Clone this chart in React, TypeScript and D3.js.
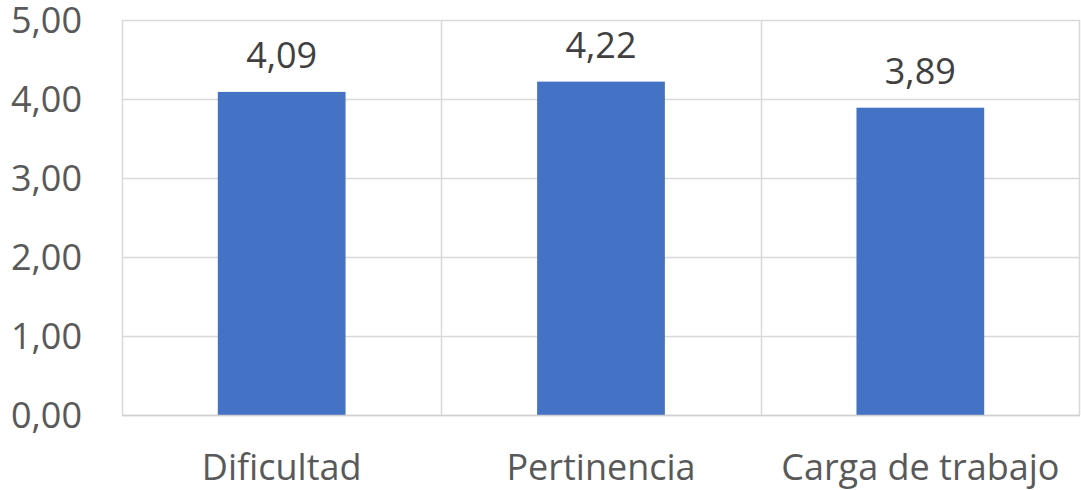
import React from "react";
import * as d3 from "d3";

const categories = ["Dificultad", "Pertinencia", "Carga de trabajo"];
const values = [4.09, 4.22, 3.89];
const yTicks = [0, 1, 2, 3, 4, 5];

const W = 1081;
const H = 490;
const M = { left: 122, right: 1080, top: 20, bottom: 415 };
const FONT = "'Open Sans', sans-serif";
const fmt = (v: number) => v.toFixed(2).replace(".", ",");

export default function App() {
  const x = d3
    .scaleBand<string>()
    .domain(categories)
    .range([M.left, M.right])
    .paddingInner(0)
    .paddingOuter(0);
  const y = d3.scaleLinear().domain([0, 5]).range([M.bottom, M.top]);
  const bw = x.bandwidth() * 0.4;

  return (
    <svg
      width={W}
      height={H}
      style={{ position: "absolute", left: 0, top: 0, background: "#fff" }}
      fontFamily={FONT}
    >
      {yTicks.map((t) => (
        <g key={t}>
          <line
            x1={M.left}
            x2={M.right}
            y1={Math.round(y(t)) + 0.5}
            y2={Math.round(y(t)) + 0.5}
            stroke="#d9d9d9"
            strokeWidth={1.5}
          />
          <text
            x={82}
            y={y(t) + 13}
            textAnchor="end"
            fontSize={36}
            fill="#595959"
          >
            {fmt(t)}
          </text>
        </g>
      ))}
      {categories.map((c) => (
        <line
          key={"v" + c}
          x1={Math.round(x(c)!) + 0.5}
          x2={Math.round(x(c)!) + 0.5}
          y1={M.top}
          y2={M.bottom}
          stroke="#d9d9d9"
          strokeWidth={1.5}
        />
      ))}
      <line
        x1={M.right - 0.5}
        x2={M.right - 0.5}
        y1={M.top}
        y2={M.bottom}
        stroke="#d9d9d9"
        strokeWidth={1.5}
      />
      {categories.map((c, i) => {
        const cx = x(c)! + x.bandwidth() / 2;
        return (
          <g key={c}>
            <rect
              x={cx - bw / 2}
              y={y(values[i])}
              width={bw}
              height={y(0) - y(values[i])}
              fill="#4472C4"
            />
            <text
              x={cx}
              y={y(values[i]) - 24}
              textAnchor="middle"
              fontSize={36}
              fill="#404040"
            >
              {fmt(values[i])}
            </text>
            <text
              x={cx}
              y={480}
              textAnchor="middle"
              fontSize={36}
              fill="#595959"
            >
              {c}
            </text>
          </g>
        );
      })}
      <line
        x1={M.left}
        x2={M.right}
        y1={M.bottom + 0.5}
        y2={M.bottom + 0.5}
        stroke="#d0d0d0"
        strokeWidth={1.5}
      />
    </svg>
  );
}
